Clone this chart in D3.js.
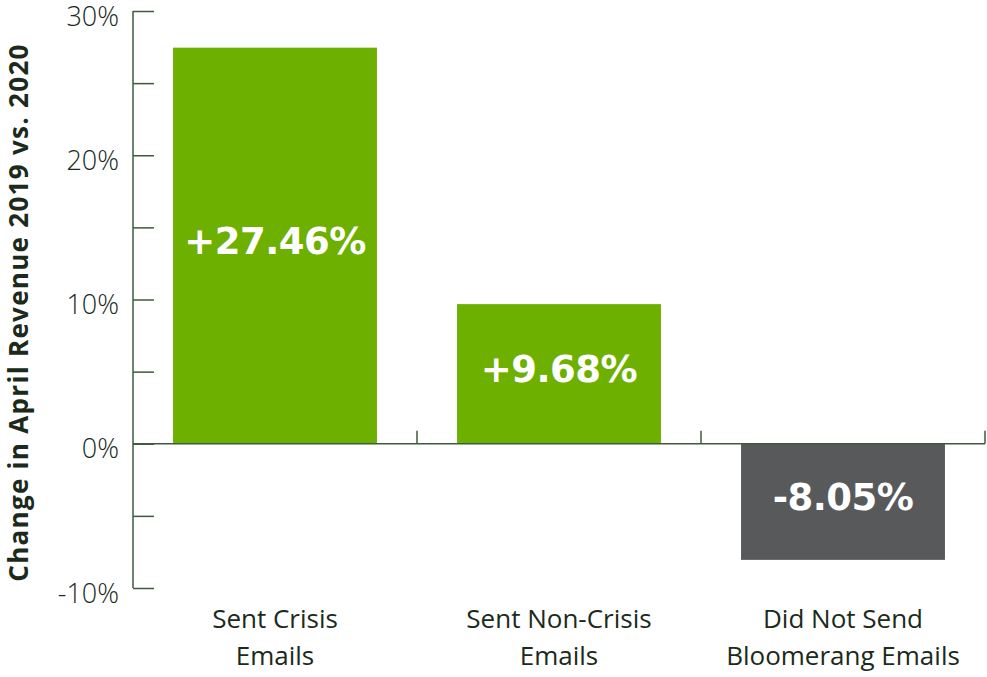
<!DOCTYPE html>
<html>
<head>
<meta charset="utf-8">
<script src="https://cdn.jsdelivr.net/npm/d3@7"></script>
<style>
  html, body { margin: 0; padding: 0; background: #ffffff; }
  svg { display: block; }
</style>
</head>
<body>
<svg id="chart" width="987" height="677"></svg>
<script>
// Data
const categories = [["Sent Crisis", "Emails"], ["Sent Non-Crisis", "Emails"], ["Did Not Send", "Bloomerang Emails"]];
const values = [27.46, 9.68, -8.05];
const valueLabels = ["+27.46%", "+9.68%", "-8.05%"];
const yTicks = [-10, 0, 10, 20, 30];
const yMinorTicks = [-10, -5, 0, 5, 10, 15, 20, 25, 30];
const yTitle = "Change in April Revenue 2019 vs. 2020";

const svg = d3.select("#chart");
const axisColor = "#3f5a3f";
const textColor = "#1b2a1b";
const font = "'Open Sans', 'Noto Sans', sans-serif";
const heavyFont = "'DejaVu Sans', 'Open Sans', sans-serif";

const plotLeft = 133, plotRight = 985, plotTop = 11, plotBottom = 588;

const x = d3.scaleBand()
  .domain(d3.range(categories.length))
  .range([plotLeft, plotRight])
  .paddingInner(0.282)
  .paddingOuter(0.141);

const y = d3.scaleLinear().domain([-10, 30]).range([plotBottom, plotTop]);

// Bars
svg.selectAll("rect.bar")
  .data(values)
  .join("rect")
  .attr("class", "bar")
  .attr("x", (d, i) => x(i))
  .attr("width", x.bandwidth())
  .attr("y", d => y(Math.max(0, d)))
  .attr("height", d => Math.abs(y(d) - y(0)))
  .attr("fill", d => d >= 0 ? "#6db000" : "#58595b");

// Value labels inside bars
svg.selectAll("text.val")
  .data(values)
  .join("text")
  .attr("class", "val")
  .attr("x", (d, i) => x(i) + x.bandwidth() / 2)
  .attr("y", d => (y(d) + y(0)) / 2 - 5)
  .attr("dy", "0.36em")
  .attr("text-anchor", "middle")
  .attr("fill", "#ffffff")
  .style("font-family", heavyFont)
  .style("font-weight", 700)
  .style("font-size", "37px")
  .style("letter-spacing", "-0.5px")
  .text((d, i) => valueLabels[i]);

// Y axis: ticks drawn inward
const yAxis = d3.axisRight(y)
  .tickValues(yMinorTicks)
  .tickSize(21)
  .tickFormat("");
const gy = svg.append("g").attr("transform", `translate(${plotLeft},0)`).call(yAxis);
gy.select(".domain").attr("stroke", axisColor).attr("stroke-width", 1.5).attr("d", `M0,${plotTop}V${plotBottom}`);
gy.selectAll(".tick line").attr("stroke", axisColor).attr("stroke-width", 1.5);

// Y tick labels
svg.selectAll("text.ytick")
  .data(yTicks)
  .join("text")
  .attr("class", "ytick")
  .attr("x", 119)
  .attr("y", d => y(d) + 5)
  .attr("dy", "0.36em")
  .attr("text-anchor", "end")
  .attr("fill", textColor)
  .style("font-family", font)
  .style("font-weight", 300)
  .style("font-size", "27px")
  .text(d => d + "%");

// X axis along zero, ticks at band boundaries pointing up
const boundaries = d3.range(categories.length + 1).map(i => plotLeft + i * x.step());
const gx = svg.append("g");
gx.append("line")
  .attr("x1", plotLeft).attr("x2", plotRight)
  .attr("y1", y(0)).attr("y2", y(0))
  .attr("stroke", axisColor).attr("stroke-width", 1.5);
gx.selectAll("line.xt")
  .data(boundaries.slice(1))
  .join("line")
  .attr("class", "xt")
  .attr("x1", d => d).attr("x2", d => d)
  .attr("y1", y(0)).attr("y2", y(0) - 13)
  .attr("stroke", axisColor).attr("stroke-width", 1.5);

// Category labels
const cat = svg.selectAll("text.cat")
  .data(categories)
  .join("text")
  .attr("class", "cat")
  .attr("x", (d, i) => x(i) + x.bandwidth() / 2)
  .attr("y", 628)
  .attr("text-anchor", "middle")
  .attr("fill", textColor)
  .style("font-family", font)
  .style("font-size", "26px");
cat.selectAll("tspan")
  .data(d => d)
  .join("tspan")
  .attr("x", function () { return d3.select(this.parentNode).attr("x"); })
  .attr("dy", (d, i) => i === 0 ? 0 : 37)
  .text(d => d);

// Y axis title
svg.append("text")
  .attr("transform", `translate(28,${(plotTop + plotBottom) / 2 + 13}) rotate(-90)`)
  .attr("text-anchor", "middle")
  .attr("fill", textColor)
  .style("font-family", font)
  .style("font-weight", 700)
  .style("font-size", "26px")
  .style("letter-spacing", "1.3px")
  .text(yTitle);
</script>
</body>
</html>
